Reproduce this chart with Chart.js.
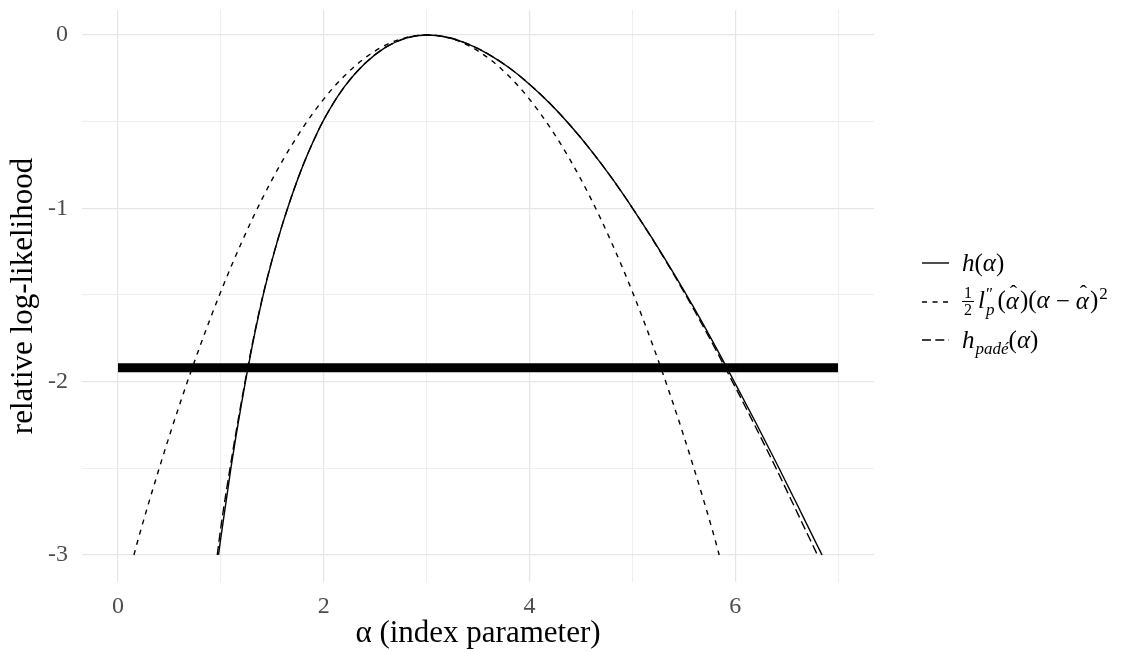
<!DOCTYPE html>
<html>
<head>
<meta charset="utf-8">
<script src="https://cdn.jsdelivr.net/npm/chart.js@4.4.1/dist/chart.umd.min.js"></script>
<style>
  html, body { margin: 0; padding: 0; background: #ffffff; }
  #wrap { position: relative; width: 1128px; height: 652px; overflow: hidden; }
  #c { position: absolute; left: 0; top: 0; }
  .lg { position: absolute; left: 922px; height: 30px; display: flex; align-items: center;
        font-family: "Liberation Serif", "DejaVu Serif", serif; font-size: 25px; color: #000; white-space: nowrap; }
  .lg svg { margin-right: 13px; flex: none; }
  .lg i { font-style: italic; }
  .frac { display: inline-flex; flex-direction: column; align-items: center; font-size: 16px; line-height: 1.0;
          vertical-align: middle; margin-right: 4px; position: relative; top: -2px; }
  .frac .den { border-top: 1px solid #000; padding: 0 2px; }
  .ss { display: inline-flex; flex-direction: column; vertical-align: middle; font-size: 17px; line-height: 0.95;
        position: relative; top: -1px; margin: 0 3px 0 1px; }
  .sub { font-size: 17px; position: relative; top: 6px; margin-left: 1px; }
  .hat { position: relative; display: inline-block; font-style: italic; padding-right: 1px; }
  .hat::after { content: "ˆ"; position: absolute; left: 4px; top: -7px; font-style: normal; font-size: 22px; }
  .op { padding: 0 6px; }
  sup { font-size: 17px; margin-left: 1px; }
</style>
</head>
<body>
<div id="wrap">
  <canvas id="c" width="1128" height="652"></canvas>
  <div class="lg" style="top:248px">
    <svg width="27" height="4"><line x1="0" y1="2" x2="27" y2="2" stroke="#000" stroke-width="1.4"/></svg>
    <span><i>h</i>(<i>α</i>)</span>
  </div>
  <div class="lg" style="top:287px">
    <svg width="27" height="4"><line x1="0" y1="2" x2="27" y2="2" stroke="#000" stroke-width="1.4" stroke-dasharray="5 5.5"/></svg>
    <span><span class="frac"><span>1</span><span class="den">2</span></span><i>l</i><span class="ss"><span>″</span><span><i>p</i></span></span>(<span class="hat">α</span>)(<i>α</i><span class="op">−</span><span class="hat">α</span>)<sup>2</sup></span>
  </div>
  <div class="lg" style="top:325px">
    <svg width="27" height="4"><line x1="0" y1="2" x2="27" y2="2" stroke="#000" stroke-width="1.4" stroke-dasharray="9 4.3"/></svg>
    <span><i>h</i><span class="sub"><i>padé</i></span>(<i>α</i>)</span>
  </div>
</div>
<script>
// ---- data ----
const alphaH = [0.977,1.0,1.1,1.2,1.3,1.4,1.5,1.6,1.7,1.8,1.9,2.0,2.2,2.4,2.6,2.8,3.0,3.2,3.4,3.6,3.8,4.0,4.2,4.4,4.6,4.8,5.0,5.2,5.4,5.6,5.8,6.0,6.2,6.4,6.6,6.8,6.845];
const hValues = [-3.0,-2.90,-2.49,-2.13,-1.81,-1.53,-1.295,-1.09,-0.91,-0.75,-0.612,-0.49,-0.30,-0.165,-0.072,-0.018,0,-0.013,-0.051,-0.110,-0.188,-0.284,-0.396,-0.524,-0.667,-0.825,-0.997,-1.180,-1.373,-1.575,-1.788,-2.010,-2.236,-2.468,-2.706,-2.947,-3.0];

const alphaQuad = [0.155,0.2,0.4,0.6,0.8,1.0,1.2,1.4,1.6,1.8,2.0,2.2,2.4,2.6,2.8,3.0,3.2,3.4,3.6,3.8,4.0,4.2,4.4,4.6,4.8,5.0,5.2,5.4,5.6,5.8,5.845];
const quadValues = [-3.0,-2.901,-2.501,-2.131,-1.791,-1.48,-1.199,-0.947,-0.725,-0.533,-0.37,-0.237,-0.133,-0.059,-0.015,0,-0.015,-0.059,-0.133,-0.237,-0.37,-0.533,-0.725,-0.947,-1.199,-1.48,-1.791,-2.131,-2.501,-2.901,-3.0];

const alphaPade = [0.965,1.0,1.1,1.2,1.3,1.4,1.5,1.6,1.7,1.8,1.9,2.0,2.2,2.4,2.6,2.8,3.0,3.2,3.4,3.6,3.8,4.0,4.2,4.4,4.6,4.8,5.0,5.2,5.4,5.6,5.8,6.0,6.2,6.4,6.6,6.8];
const padeValues = [-3.0,-2.84,-2.46,-2.115,-1.80,-1.525,-1.292,-1.09,-0.91,-0.75,-0.612,-0.49,-0.30,-0.165,-0.072,-0.018,0,-0.013,-0.051,-0.110,-0.188,-0.284,-0.396,-0.524,-0.667,-0.825,-0.997,-1.182,-1.378,-1.585,-1.803,-2.030,-2.263,-2.503,-2.751,-3.0];

const cutoffX = [0, 7];
const cutoffY = [-1.92, -1.92];

const xGridValues = [0,1,2,3,4,5,6,7];
const xTickValues = [0,2,4,6];
const yGridValues = [-3,-2.5,-2,-1.5,-1,-0.5,0];
const yTickValues = [-3,-2,-1,0];

const seriesNames = ['h(α)', '½ l″p(α̂)(α − α̂)²', 'h_padé(α)', 'cutoff'];

function pts(xs, ys) { return xs.map((x, i) => ({x: x, y: ys[i]})); }

const serif = '"Liberation Serif", "DejaVu Serif", serif';

new Chart(document.getElementById('c'), {
  type: 'line',
  data: {
    datasets: [
      { label: seriesNames[0], data: pts(alphaH, hValues), borderColor: '#000', borderWidth: 1.4,
        pointRadius: 0, cubicInterpolationMode: 'monotone', fill: false },
      { label: seriesNames[1], data: pts(alphaQuad, quadValues), borderColor: '#000', borderWidth: 1.4,
        borderDash: [5, 5.5], pointRadius: 0, cubicInterpolationMode: 'monotone', fill: false },
      { label: seriesNames[2], data: pts(alphaPade, padeValues), borderColor: '#000', borderWidth: 1.4,
        borderDash: [9, 4.3], pointRadius: 0, cubicInterpolationMode: 'monotone', fill: false },
      { label: seriesNames[3], data: pts(cutoffX, cutoffY), borderColor: '#000', borderWidth: 9,
        borderCapStyle: 'butt', pointRadius: 0, fill: false }
    ]
  },
  options: {
    responsive: false,
    animation: false,
    devicePixelRatio: 1,
    layout: { padding: { top: 10, right: 254, bottom: 0, left: 0 } },
    plugins: { legend: { display: false }, tooltip: { enabled: false } },
    scales: {
      x: {
        type: 'linear', min: -0.35, max: 7.35,
        afterBuildTicks: s => { s.ticks = xGridValues.map(v => ({value: v})); },
        afterFit: s => { s.height = 70; s.paddingLeft = 0; s.paddingRight = 0; s.paddingTop = 0; s.paddingBottom = 0; },
        grid: { color: ctx => (ctx.tick && xTickValues.includes(ctx.tick.value)) ? '#E6E6E6' : '#EEEEEE',
                lineWidth: ctx => (ctx.tick && xTickValues.includes(ctx.tick.value)) ? 1.2 : 1,
                drawTicks: false },
        border: { display: false },
        ticks: { autoSkip: false, maxRotation: 0, padding: 10, color: '#4D4D4D',
                 font: { family: serif, size: 24 },
                 callback: v => xTickValues.includes(v) ? String(v) : '' },
        title: { display: true, text: 'α (index parameter)', color: '#000',
                 font: { family: serif, size: 31 }, padding: { top: 0, bottom: 0 } }
      },
      y: {
        type: 'linear', min: -3.156, max: 0.144,
        afterBuildTicks: s => { s.ticks = yGridValues.map(v => ({value: v})); },
        afterFit: s => { s.width = 82; s.paddingLeft = 0; s.paddingRight = 0; s.paddingTop = 0; s.paddingBottom = 0; },
        grid: { color: ctx => (ctx.tick && yTickValues.includes(ctx.tick.value)) ? '#E6E6E6' : '#EEEEEE',
                lineWidth: ctx => (ctx.tick && yTickValues.includes(ctx.tick.value)) ? 1.2 : 1,
                drawTicks: false },
        border: { display: false },
        ticks: { autoSkip: false, padding: 14, color: '#4D4D4D',
                 font: { family: serif, size: 24 },
                 callback: v => yTickValues.includes(v) ? String(v) : '' },
        title: { display: true, text: 'relative log-likelihood', color: '#000',
                 font: { family: serif, size: 31 }, padding: { top: 5, bottom: 0 } }
      }
    }
  }
});
</script>
</body>
</html>
